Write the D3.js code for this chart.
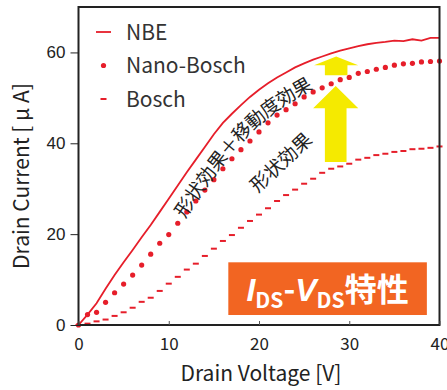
<!DOCTYPE html>
<html>
<head>
<meta charset="utf-8">
<script src="https://cdn.jsdelivr.net/npm/d3@7"></script>
<style>
  body { margin: 0; background: #fff; }
  svg { display: block; }
</style>
</head>
<body>
<div id="chart"></div>
<script>
// drain voltage steps [V]
var voltage = d3.range(0, 41);
// drain current [uA]
var nbe = [0, 2.3, 4.8, 8, 11, 13.8, 16.5, 19.3, 22, 24.9, 27.8, 30.7, 33.6, 36.4, 39.2, 42,
           44.5, 46.5, 48.4, 50.2, 51.8, 53.2, 54.5, 55.6, 56.7, 57.6, 58.4, 59.1, 59.8, 60.4,
           60.9, 61.4, 61.8, 62.1, 62.3, 62.6, 62.5, 62.9, 62.6, 63.2, 63.2];
var nanoBosch = [0, 2.3, 2.8, 5, 7.1, 9, 11, 13.2, 15.6, 18, 19.9, 22.4, 24.9, 27.3, 29.7, 32,
                 34.4, 36.6, 38.6, 40.5, 42.5, 44.5, 46.2, 47.4, 48.7, 50.2, 51.3, 52.2, 53.1, 54,
                 54.5, 55.4, 55.8, 56.3, 56.7, 57.2, 57.5, 57.6, 57.9, 58, 58.1];
var bosch = [0, 0.3, 0.8, 1.2, 2, 2.8, 3.8, 5.1, 6, 7.5, 9.1, 10.6, 12.2, 13.5, 15.2, 16.8,
             18.5, 19.8, 21.4, 22.9, 24.3, 25.7, 27.3, 28.6, 29.8, 31.1, 32.2, 33.5, 34.4, 34.9,
             35.5, 36.4, 36.8, 37.4, 37.7, 38.1, 38.3, 38.7, 38.8, 39, 39.3];
var seriesNames = ["NBE", "Nano-Bosch", "Bosch"];
var xTicks = [0, 10, 20, 30, 40];
var yTicks = [0, 20, 40, 60];

var width = 447,
    height = 390,
    red = "#e61e2a",
    ink = "#222";

var x = d3.scaleLinear().domain([0, 40]).range([78.5, 439.5]);
var y = d3.scaleLinear().domain([0, 70]).range([325, 7]);

var svg = d3.select("#chart")
            .append("svg")
            .attr("width", width)
            .attr("height", height);

// annotations under the data: box + arrows
svg.append("rect")
   .attr("x", x(16.6))
   .attr("y", y(13.8))
   .attr("width", x(38.6) - x(16.6))
   .attr("height", y(2.2) - y(13.8))
   .style("fill", "#f26522");

var label = svg.append("text")
   .attr("x", (x(16.6) + x(38.6)) / 2)
   .attr("y", y(5.2))
   .attr("text-anchor", "middle")
   .style("fill", "#fff")
   .style("font-family", "'Noto Sans CJK JP', sans-serif")
   .style("font-weight", "bold")
   .style("font-size", "32px");
label.append("tspan").style("font-style", "italic").style("font-family", "'Liberation Sans', sans-serif").text("I");
label.append("tspan").attr("dy", 7).style("font-size", "21px").text("DS");
label.append("tspan").attr("dy", -7).text("-");
label.append("tspan").style("font-style", "italic").style("font-family", "'Liberation Sans', sans-serif").text("V");
label.append("tspan").attr("dy", 7).style("font-size", "21px").text("DS");
label.append("tspan").attr("dy", -7).text("特性");

function arrow(tip, headBase, bottom, x0, x1, s0, s1) {
  return "M" + x((x0 + x1) / 2) + "," + y(tip) +
         "L" + x(x1) + "," + y(headBase) +
         "L" + x(s1) + "," + y(headBase) +
         "L" + x(s1) + "," + y(bottom) +
         "L" + x(s0) + "," + y(bottom) +
         "L" + x(s0) + "," + y(headBase) +
         "L" + x(x0) + "," + y(headBase) + "Z";
}
svg.append("path")
   .attr("d", arrow(59.1, 57.2, 55.0, 26.1, 31.0, 27.3, 29.8))
   .style("fill", "#f5ea00");
svg.append("path")
   .attr("d", arrow(52.6, 47.7, 35.9, 26.0, 31.0, 27.3, 29.7))
   .style("fill", "#f5ea00");

// series
var line = d3.line()
             .x(function(d, i) { return x(voltage[i]); })
             .y(function(d) { return y(d); });

svg.append("path")
   .datum(nbe)
   .attr("d", line)
   .style("fill", "none")
   .style("stroke", red)
   .style("stroke-width", 1.8);

svg.selectAll(".nano")
   .data(nanoBosch)
   .enter().append("circle")
   .attr("class", "nano")
   .attr("cx", function(d, i) { return x(voltage[i]); })
   .attr("cy", function(d) { return y(d); })
   .attr("r", 2.6)
   .style("fill", red);

svg.selectAll(".bosch")
   .data(bosch)
   .enter().append("line")
   .attr("class", "bosch")
   .attr("x1", function(d, i) { return x(voltage[i]) - 3; })
   .attr("x2", function(d, i) { return x(voltage[i]) + 3; })
   .attr("y1", function(d) { return y(d); })
   .attr("y2", function(d) { return y(d); })
   .style("stroke", red)
   .style("stroke-width", 2);

// effect labels
var pathPts = [[10.36, 22.7], [18.2, 43.4], [26.5, 54.8]];
svg.append("path")
   .attr("id", "effectPath")
   .attr("d", d3.line().x(function(d) { return x(d[0]); })
                        .y(function(d) { return y(d[1]); })
                        .curve(d3.curveNatural)(pathPts))
   .style("fill", "none");

svg.append("text")
   .attr("dominant-baseline", "central")
   .style("font-family", "'Noto Sans CJK JP', sans-serif")
   .style("font-size", "19px")
   .style("fill", ink)
   .append("textPath")
   .attr("href", "#effectPath")
   .attr("startOffset", "50%")
   .attr("text-anchor", "middle")
   .text("形状効果＋移動度効果");

svg.append("text")
   .attr("transform", "translate(" + x(22.3) + "," + y(36.1) + ") rotate(-43)")
   .attr("text-anchor", "middle")
   .attr("dominant-baseline", "central")
   .style("font-family", "'Noto Sans CJK JP', sans-serif")
   .style("font-size", "19px")
   .style("fill", ink)
   .text("形状効果");

// frame
svg.append("rect")
   .attr("x", x(0))
   .attr("y", y(70))
   .attr("width", x(40) - x(0))
   .attr("height", y(0) - y(70))
   .style("fill", "none")
   .style("stroke", ink)
   .style("stroke-width", 2);

// axes
var xAxis = svg.append("g")
   .attr("transform", "translate(0," + y(0) + ")")
   .call(d3.axisBottom(x).tickValues(xTicks).tickSizeInner(-4).tickSizeOuter(0).tickPadding(13));
xAxis.select(".domain").remove();
xAxis.selectAll("line").style("stroke", "#555");
xAxis.selectAll("text")
     .style("font-family", "'Noto Sans CJK JP', sans-serif")
     .style("font-size", "17px")
     .style("fill", ink);

var yAxis = svg.append("g")
   .attr("transform", "translate(" + x(0) + ",0)")
   .call(d3.axisLeft(y).tickValues(yTicks).tickSizeInner(8).tickSizeOuter(0).tickPadding(5));
yAxis.select(".domain").remove();
yAxis.selectAll("line").style("stroke", ink);
yAxis.selectAll("text")
     .style("font-family", "'Liberation Sans', Arial, sans-serif")
     .style("font-size", "17px")
     .style("fill", ink);

svg.append("text")
   .attr("x", (x(0) + x(40)) / 2 + 2)
   .attr("y", 381)
   .attr("text-anchor", "middle")
   .style("font-family", "'Noto Sans CJK JP', sans-serif")
   .style("font-size", "21px")
   .style("fill", ink)
   .text("Drain Voltage [V]");

svg.append("text")
   .attr("transform", "translate(29," + 176 + ") rotate(-90)")
   .attr("text-anchor", "middle")
   .style("font-family", "'Noto Sans CJK JP', sans-serif")
   .style("font-size", "21px")
   .style("fill", ink)
   .text("Drain Current [ μ A]");

// legend
var legend = svg.selectAll(".legend")
   .data(seriesNames)
   .enter().append("g")
   .attr("class", "legend")
   .attr("transform", function(d, i) { return "translate(0," + (32 + i * 33.5) + ")"; });

legend.append("text")
   .attr("x", 126)
   .attr("dy", "0.36em")
   .style("font-family", "'Noto Sans CJK JP', sans-serif")
   .style("font-size", "21px")
   .style("fill", "#333")
   .text(function(d) { return d; });

legend.filter(function(d, i) { return i === 0; })
   .append("line")
   .attr("x1", 96).attr("x2", 111)
   .style("stroke", red).style("stroke-width", 1.8);
legend.filter(function(d, i) { return i === 1; })
   .append("circle")
   .attr("cx", 103.5).attr("r", 2.6)
   .style("fill", red);
legend.filter(function(d, i) { return i === 2; })
   .append("line")
   .attr("x1", 100.5).attr("x2", 106.5)
   .style("stroke", red).style("stroke-width", 2);
</script>
</body>
</html>
